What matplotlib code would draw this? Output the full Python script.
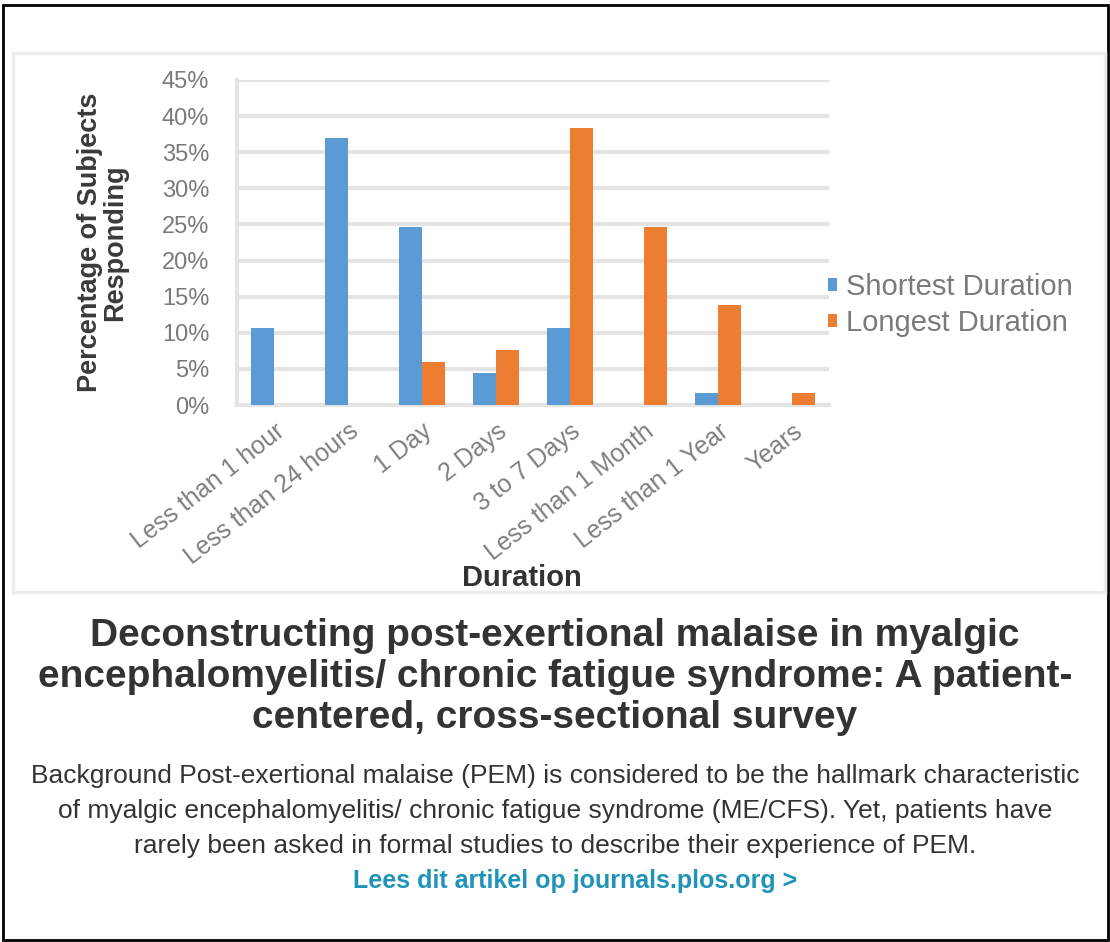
import numpy as np
import matplotlib
matplotlib.use("Agg")
import matplotlib.pyplot as plt
from matplotlib.patches import Rectangle

plt.rcParams['font.family'] = ['Liberation Sans', 'DejaVu Sans']

# data
categories = ["Less than 1 hour", "Less than 24 hours", "1 Day", "2 Days",
              "3 to 7 Days", "Less than 1 Month", "Less than 1 Year", "Years"]
shortest = [10.7, 37.0, 24.7, 4.5, 10.7, 0.0, 1.6, 0.0]
longest = [0.0, 0.0, 6.0, 7.6, 38.3, 24.7, 13.8, 1.6]
yticks = [0, 5, 10, 15, 20, 25, 30, 35, 40, 45]

title = ("Deconstructing post-exertional malaise in myalgic\n"
         "encephalomyelitis/ chronic fatigue syndrome: A patient-\n"
         "centered, cross-sectional survey")
desc = ["Background Post-exertional malaise (PEM) is considered to be the hallmark characteristic",
        "of myalgic encephalomyelitis/ chronic fatigue syndrome (ME/CFS). Yet, patients have",
        "rarely been asked in formal studies to describe their experience of PEM."]
link = "Lees dit artikel op journals.plos.org >"

W, H = 1110, 942
fig = plt.figure(figsize=(W / 100, H / 100), dpi=100)

def fx(px):
    return px / W

def fy(py):
    return 1 - py / H

# card border
fig.patches.append(Rectangle((fx(3), fy(940)), fx(1105), fy(5) - fy(940),
                             transform=fig.transFigure, fill=False,
                             edgecolor='black', linewidth=2))
# chart image frame
fig.patches.append(Rectangle((fx(13), fy(592)), fx(1092), fy(53) - fy(592),
                             transform=fig.transFigure, fill=False,
                             edgecolor='#ececec', linewidth=2.5))

# plot area: x 237..829, y 80..405
ax = fig.add_axes([fx(237), fy(405), fx(829 - 237), fy(80) - fy(405)])
x = np.arange(len(categories))
bw = 0.31
ax.bar(x - bw / 2, shortest, bw, color='#5b9bd5', label='Shortest Duration', zorder=3)
ax.bar(x + bw / 2, longest, bw, color='#ed7d31', label='Longest Duration', zorder=3)

ax.set_xlim(-0.5, len(categories) - 0.5)
ax.set_ylim(0, 45)
ax.set_yticks(yticks)
ax.set_yticklabels([f"{v}%" for v in yticks], color='#7a7a7a', fontsize=17)
ax.yaxis.grid(True, color='#e4e4e4', linewidth=3, zorder=0)
ax.set_xticks(x)
ax.set_xticklabels(categories, rotation=38, ha='right', rotation_mode='anchor',
                   color='#7f7f7f', fontsize=18)
ax.tick_params(axis='y', length=0, pad=20)
ax.tick_params(axis='x', length=0, pad=10)
for s in ['top', 'right']:
    ax.spines[s].set_visible(False)
for s in ['bottom', 'left']:
    ax.spines[s].set_color('#e4e4e4')
    ax.spines[s].set_linewidth(3)

ax.set_ylabel("Percentage of Subjects\nResponding", fontsize=19.5, fontweight='bold',
              color='#3a3a3a', labelpad=24, linespacing=1.0)
fig.text(fx(522), fy(578), "Duration", fontsize=21, fontweight='bold',
         color='#333333', ha='center', va='center')

fig.legend(loc='center left', bbox_to_anchor=(fx(828), fy(305)), frameon=False,
           fontsize=21, labelcolor='#7a7a7a', handlelength=0.32, handleheight=0.32,
           handletextpad=0.3, labelspacing=0.28, borderpad=0, borderaxespad=0)

# card text
fig.text(0.5, fy(677), title, ha='center', va='center', fontsize=28,
         fontweight='bold', color='#333333', linespacing=1.17)
for i, line in enumerate(desc):
    fig.text(0.5, fy(776 + 35 * i), line, ha='center', va='center',
             fontsize=19, color='#333333')
fig.text(fx(797), fy(881), link, ha='right', va='center', fontsize=18,
         fontweight='bold', color='#1f93b8')

fig.savefig("out.png", dpi=100)
